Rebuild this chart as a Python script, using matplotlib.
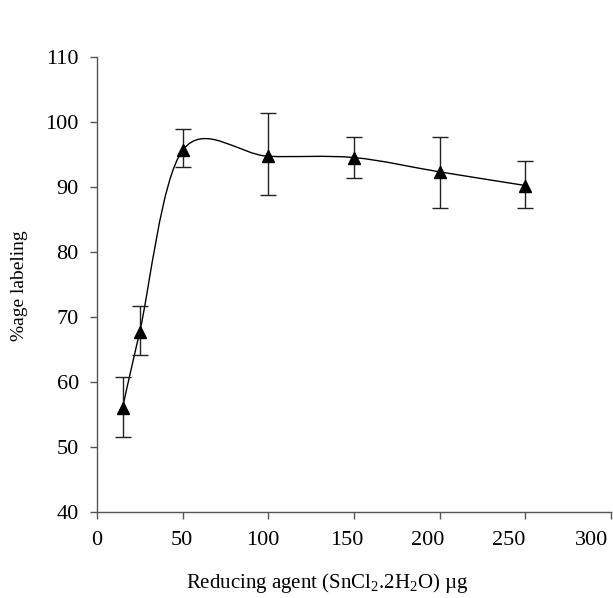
import matplotlib
matplotlib.use('Agg')
import matplotlib.pyplot as plt
import matplotlib.transforms as mtransforms
import numpy as np
from matplotlib.path import Path
from matplotlib.patches import PathPatch

plt.rcParams['font.family'] = ['Liberation Serif', 'DejaVu Serif']

# data
dose = [15, 25, 50, 100, 150, 200, 250]
labeling = [56.0, 67.7, 95.6, 94.7, 94.5, 92.3, 90.2]
err_hi = [60.8, 71.6, 98.9, 101.4, 97.6, 97.6, 93.9]
err_lo = [51.5, 64.2, 93.0, 88.7, 91.4, 86.8, 86.8]

x_ticks = [0, 50, 100, 150, 200, 250, 300]
y_ticks = [40, 50, 60, 70, 80, 90, 100, 110]

x = np.array(dose, dtype=float)
y = np.array(labeling)
yerr = [y - np.array(err_lo), np.array(err_hi) - y]

fig = plt.figure(figsize=(6.13, 5.98), dpi=100)
ax = fig.add_axes([0.158, 0.144, 0.839, 0.761])

# smoothed line like a spreadsheet chart (cubic bezier through the points)
pts = np.column_stack([x, y])
verts = [pts[0]]
codes = [Path.MOVETO]
n = len(pts)
for i in range(n - 1):
    p_prev = pts[i - 1] if i > 0 else pts[i]
    p_next2 = pts[i + 2] if i + 2 < n else pts[i + 1]
    c1 = pts[i] + (pts[i + 1] - p_prev) / 6
    c2 = pts[i + 1] - (p_next2 - pts[i]) / 6
    verts += [c1, c2, pts[i + 1]]
    codes += [Path.CURVE4] * 3
ax.add_patch(PathPatch(Path(verts, codes), fill=False, edgecolor='black', lw=1.0))

ax.errorbar(x, y, yerr=yerr, fmt='none', ecolor='#222222', elinewidth=1.0,
            capsize=5.5, capthick=1.0)
ax.plot(x, y, linestyle='none', marker='^', color='black', markersize=8.5)

ax.set_xlim(0, 300)
ax.set_ylim(40, 110)
ax.set_xticks(x_ticks)
ax.set_yticks(y_ticks)

for s in ['top', 'right']:
    ax.spines[s].set_visible(False)
for s in ['left', 'bottom']:
    ax.spines[s].set_color('#555555')
    ax.spines[s].set_linewidth(1.0)
ax.tick_params(direction='out', length=5, width=1.0, color='#555555',
               labelsize=16)
ax.tick_params(axis='x', pad=9)
ax.tick_params(axis='y', pad=8)

# the x tick labels in the original sit a little left of their ticks
shift_px = [0, -1, -5, -7.5, -12, -17, -20]
fig.canvas.draw()
for lab, dx in zip(ax.get_xticklabels(), shift_px):
    off = mtransforms.ScaledTranslation(dx / 100, 0, fig.dpi_scale_trans)
    lab.set_transform(lab.get_transform() + off)

ax.set_xlabel(r'Reducing agent (SnCl$_\mathregular{2}$.2H$_\mathregular{2}$O) µg',
              fontsize=15, va='center')
ax.xaxis.set_label_coords(0.449, -0.156)
ax.set_ylabel('%age labeling', fontsize=14, va='center')
ax.yaxis.set_label_coords(-0.150, 0.496)

fig.savefig('out.png', dpi=100)
